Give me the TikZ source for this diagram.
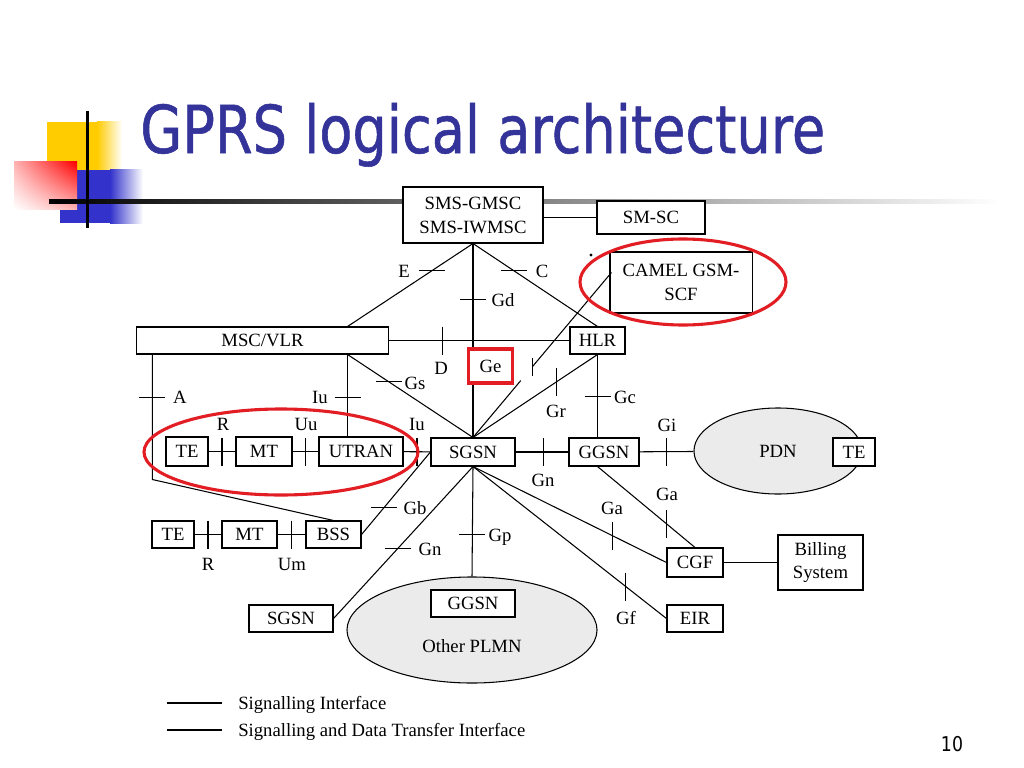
\documentclass[tikz,border=0pt]{standalone}
\usepackage{fontspec}
\setmainfont{Liberation Serif}
\newfontfamily\titlefont{DejaVu Sans}[FakeStretch=0.82,FakeBold=0.8]
\newfontfamily\pagefont{DejaVu Sans}[FakeStretch=0.85]
\usetikzlibrary{calc,shapes.geometric,shadings}
\definecolor{titleblue}{RGB}{51,51,153}
\definecolor{annot}{RGB}{226,30,36}
\definecolor{padyellow}{RGB}{255,204,0}
\definecolor{padblue}{RGB}{51,51,204}
\definecolor{padred}{RGB}{255,0,0}

\begin{document}
\begin{tikzpicture}[x=0.025cm, y=-0.025cm,
  every node/.style={font=\fontsize{13.3}{17}\selectfont, inner sep=0pt},
  box/.style={draw, line width=0.75pt, fill=white, align=center},
  netcloud/.style={draw, line width=0.75pt, fill=black!8, ellipse},
  link/.style={line width=0.75pt},
  ring/.style={draw=annot, line width=2.2pt},
  lbl/.style={text height=8.8pt, text depth=0pt}]

  \useasboundingbox (0,0) rectangle (1024,768);
  \fill[white] (0,0) rectangle (1024,768);

  \fill[padyellow] (47,122) rectangle (97,172);
  \shade[left color=padyellow, right color=white] (97,122) rectangle (122,172);
  \fill[padblue] (60,170) rectangle (110,223);
  \shade[left color=padblue, right color=white] (110,170) rectangle (143,223);
  \shade[upper right=padred, upper left=padred!30!white,
    lower right=padred!30!white, lower left=white] (14,162) rectangle (77,209);
  \shade[left color=black, middle color=black!45, right color=white] (49,199) rectangle (1000,203);
  \fill[black] (85.5,111) rectangle (88.5,228);

  \node[anchor=base west, text=titleblue, font=\titlefont\fontsize{47}{50}\selectfont]
    (title) at (140,153) {GPRS logical architecture};
  \node[anchor=base, font=\pagefont\fontsize{14.5}{16}\selectfont] (pageno) at (952,751) {10};

  \node[box, minimum width=3.5cm, minimum height=1.4cm] (smsgmsc) at (473,215) {SMS-GMSC\\SMS-IWMSC};
  \node[box, minimum width=2.7cm, minimum height=0.825cm] (smsc) at (651,217.5) {SM-SC};
  \node[box, minimum width=3.55cm, minimum height=1.525cm] (camel) at (681,282.5) {CAMEL GSM-\\SCF};
  \node[box, minimum width=6.275cm, minimum height=0.675cm] (msc) at (262.5,340.5) {MSC/VLR};
  \node[box, minimum width=1.375cm, minimum height=0.675cm] (hlr) at (597.5,340.5) {HLR};
  \node[box, minimum width=1.05cm, minimum height=0.725cm] (te1) at (187,451.5) {TE};
  \node[box, minimum width=1.4cm, minimum height=0.725cm] (mt1) at (264,451.5) {MT};
  \node[box, minimum width=2.1cm, minimum height=0.725cm] (utran) at (361,451.5) {UTRAN};
  \node[box, minimum width=2.1cm, minimum height=0.7cm] (sgsn) at (473,452) {SGSN};
  \node[box, minimum width=1.75cm, minimum height=0.7cm] (ggsn) at (604,452) {GGSN};
  \node[netcloud, minimum width=4.2cm, minimum height=2.15cm] (pdn) at (778,451) {PDN};
  \node[box, minimum width=1.05cm, minimum height=0.7cm] (te3) at (854,452) {TE};
  \node[box, minimum width=1.05cm, minimum height=0.675cm] (te2) at (173,534.5) {TE};
  \node[box, minimum width=1.375cm, minimum height=0.675cm] (mt2) at (249.5,534.5) {MT};
  \node[box, minimum width=1.375cm, minimum height=0.675cm] (bss) at (333.5,534.5) {BSS};
  \node[box, minimum width=1.4cm, minimum height=0.725cm] (cgf) at (695,562.5) {CGF};
  \node[box, minimum width=2.125cm, minimum height=1.375cm] (billing) at (820.5,562.5) {Billing\\System};
  \node[box, minimum width=1.4cm, minimum height=0.675cm] (eir) at (695,618.5) {EIR};
  \node[box, minimum width=2.1cm, minimum height=0.675cm] (sgsn2) at (291,618.5) {SGSN};
  \node[netcloud, minimum width=6.25cm, minimum height=2.65cm] (plmn) at (472,630) {};
  \node[box, minimum width=2.1cm, minimum height=0.675cm] (ggsn2) at (473,603.5) {GGSN};
  \node (plmnlbl) at (472,646) {Other PLMN};

  \coordinate (mscE) at ($(msc.north east)+(-41,0)$);
  \coordinate (mscS) at ($(msc.south east)+(-41,0)$);
  \coordinate (mscA) at ($(msc.south west)+(16,0)$);
  \coordinate (bend) at ($(mscA)+(0,125)$);
  \coordinate (camelG) at ($(camel.west)+(2,-10)$);

  \draw[link] (smsc.west -| smsgmsc.east) -- (smsc.west);
  \draw[link] (smsgmsc.south) -- coordinate[pos=.33] (tE) (mscE);
  \draw[link] (smsgmsc.south) -- coordinate[pos=.33] (tC) (hlr.north);
  \draw[link] (smsgmsc.south) -- coordinate[pos=.29] (tGd) (sgsn.north);
  \draw[link] (msc.east) -- coordinate[pos=.30] (tD) (hlr.west);
  \draw[link] (mscS) -- coordinate[pos=.33] (tGs) (sgsn.north);
  \draw[link] (mscS) -- coordinate[pos=.52] (tIu) (mscS |- utran.north);
  \draw[link] (mscA) -- coordinate[pos=.344] (tA) (bend) -- (bss.north);
  \draw[link] (te1) -- coordinate (tR1) (mt1);
  \draw[link] (mt1) -- coordinate (tUu) (utran);
  \draw[link] (utran) -- coordinate (tIu2) (sgsn);
  \draw[link] (sgsn) -- coordinate[pos=.53] (tGn) (ggsn);
  \draw[link] (ggsn) -- coordinate (tGi) (pdn);
  \draw[link] (sgsn.north) -- coordinate[pos=.67] (tGr) (hlr.south);
  \draw[link] (hlr.south) -- coordinate[pos=.51] (tGc) (hlr.south |- ggsn.north);
  \draw[link] (sgsn.north) -- ($(sgsn.north)!.345!(camelG)$);
  \draw[link] ($(sgsn.north)!.43!(camelG)$) coordinate (tGe) -- (camelG);
  \draw[link] (te2) -- coordinate (tR2) (mt2);
  \draw[link] (mt2) -- coordinate (tUm) (bss);
  \draw[link] (bss.east) -- coordinate[pos=.33] (tGb) (sgsn.west);
  \draw[link] (sgsn.south) -- coordinate[pos=.54] (tGn2) (sgsn2.east);
  \draw[link] (sgsn.south) -- coordinate[pos=.62] (tGp) (plmn.north);
  \draw[link] (hlr.south |- ggsn.south) -- coordinate[pos=.71] (tGa1) (cgf.north);
  \draw[link] (sgsn.south) -- coordinate[pos=.72] (tGa2) (cgf.west);
  \draw[link] (sgsn.south) -- coordinate[pos=.79] (tGf) (eir.west);
  \draw[link] (cgf) -- (billing);

  \foreach \t in {tE,tC,tGd,tGs,tIu,tA,tGc,tGb,tGn2,tGp}
    \draw[link] (\t) ++(-13,0) -- ++(26,0);
  \foreach \t in {tD,tR1,tUu,tIu2,tGn,tGi,tGr,tR2,tUm,tGa1,tGa2,tGf}
    \draw[link] (\t) ++(0,-14) -- ++(0,28);
  \draw[link] (tGe) ++(0,-9) -- ++(0,18);

  \foreach \x/\y/\s [count=\i] in {404/271/E, 542/271/C, 503/300/Gd, 441/368/D,
      415/383/Gs, 320/397/Iu, 180/397/A, 556/411/Gr, 625/397/Gc, 223/424/R,
      306/424/Uu, 417/424/Iu, 667/425/Gi, 543/480/Gn, 667/494/Ga, 612/508/Ga,
      415/508/Gb, 500/535/Gp, 430/549/Gn, 208/564/R, 292/564/Um, 626/618/Gf}
    \node[lbl] (lbl\i) at (\x,\y) {\s};

  \fill (591,255) circle[radius=1.1pt];

  \node[lbl, anchor=west] (leg1) at (238,703) {Signalling Interface};
  \node[lbl, anchor=west] (leg2) at (238,730) {Signalling and Data Transfer Interface};
  \draw[link] (leg1.west) ++(-16,0) -- ++(-55,0);
  \draw[link] (leg2.west) ++(-16,0) -- ++(-55,0);

  \node[ring, fill=white, minimum width=1.1cm, minimum height=0.85cm] (ge) at (490.5,366) {Ge};
  \draw[ring] (281,452) ellipse [x radius=137, y radius=43];
  \draw[ring] (683,282) ellipse [x radius=103, y radius=43];
\end{tikzpicture}
\end{document}
